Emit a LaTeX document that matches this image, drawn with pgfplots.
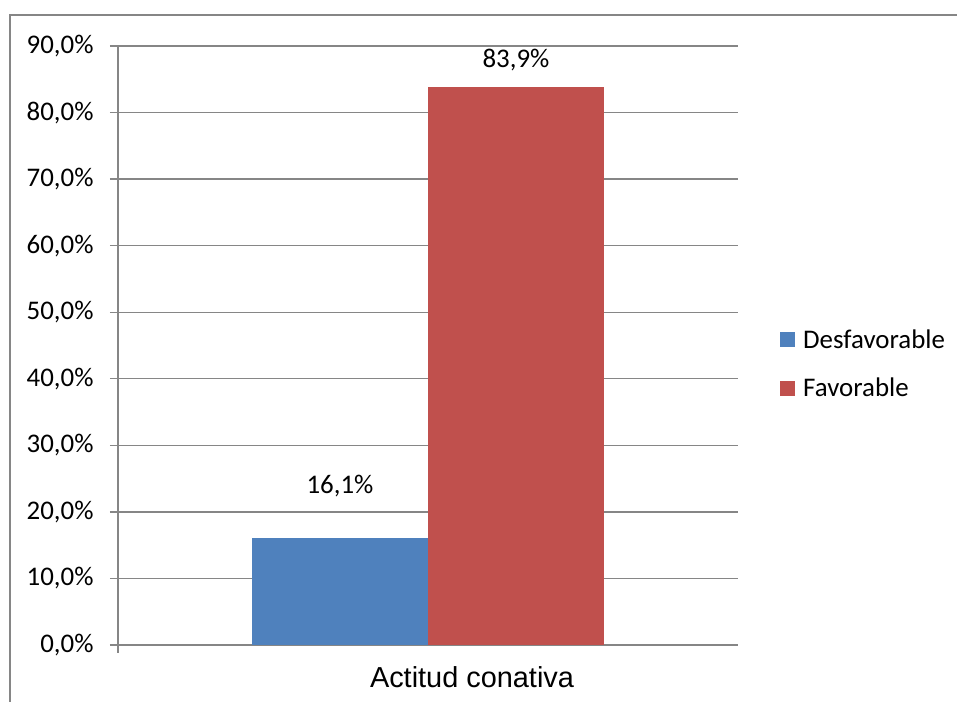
\documentclass[border=0pt]{standalone}
\usepackage{fontspec}
\setmainfont{Carlito}
\newfontfamily\arialfont{Liberation Sans}
\usepackage{pgfplots}
\pgfplotsset{compat=1.18}
\definecolor{xlblue}{HTML}{4F81BD}
\definecolor{xlred}{HTML}{C0504D}
\definecolor{xlgrid}{HTML}{868686}
\begin{document}
\begin{tikzpicture}[x=1bp,y=1bp]
\useasboundingbox (0,0) rectangle (957,702);
% chart frame
\draw[xlgrid, line width=1.5bp] (10,0) -- (10,687) -- (957,687);
\begin{axis}[
  at={(118bp,57bp)}, anchor=south west,
  scale only axis, width=620bp, height=599bp,
  ybar, bar width=176bp,
  xmin=-310, xmax=310, ymin=0, ymax=90,
  axis lines=left, axis line style={xlgrid, line width=1.3bp, -},
  ytick distance=10,
  ymajorgrids, grid style={xlgrid, line width=1.3bp},
  tick style={xlgrid, line width=1.3bp},
  tick align=outside, major tick length=8bp,
  xtick={-310}, xticklabels={},
  extra x ticks={0}, extra x tick labels={Actitud conativa},
  extra x tick style={major tick length=0pt, grid=none,
    xticklabel style={font=\arialfont\fontsize{29}{34}\selectfont, yshift=-18bp, xshift=44bp}},
  yticklabel={\pgfmathprintnumber[fixed,fixed zerofill,precision=1,use comma]{\tick}\%},
  yticklabel style={font=\fontsize{27}{31}\selectfont, xshift=-13bp},
  /pgf/number format/assume math mode=true,
  nodes near coords={\pgfmathprintnumber[fixed,fixed zerofill,precision=1,use comma]{\pgfplotspointmeta}\%},
  nodes near coords style={font=\fontsize{27}{31}\selectfont, anchor=center},
  legend image code/.code={\fill[#1] (0bp,-7.5bp) rectangle (15bp,7.5bp);},
  legend style={draw=none, fill=none, at={(axis description cs:1.0677,0.469)}, anchor=west,
    font=\fontsize{27}{31}\selectfont, row sep=26bp, column sep=7bp, inner sep=0pt,
    nodes={inner sep=1bp}},
  legend cell align=left,
]
\addplot[fill=xlblue, draw=none, bar shift=-88bp,
  nodes near coords style={yshift=52bp}] coordinates {(0,16.1)};
\addplot[fill=xlred, draw=none, bar shift=88bp,
  nodes near coords style={yshift=27bp}] coordinates {(0,83.9)};
\legend{Desfavorable, Favorable}
\end{axis}
\end{tikzpicture}
\end{document}
